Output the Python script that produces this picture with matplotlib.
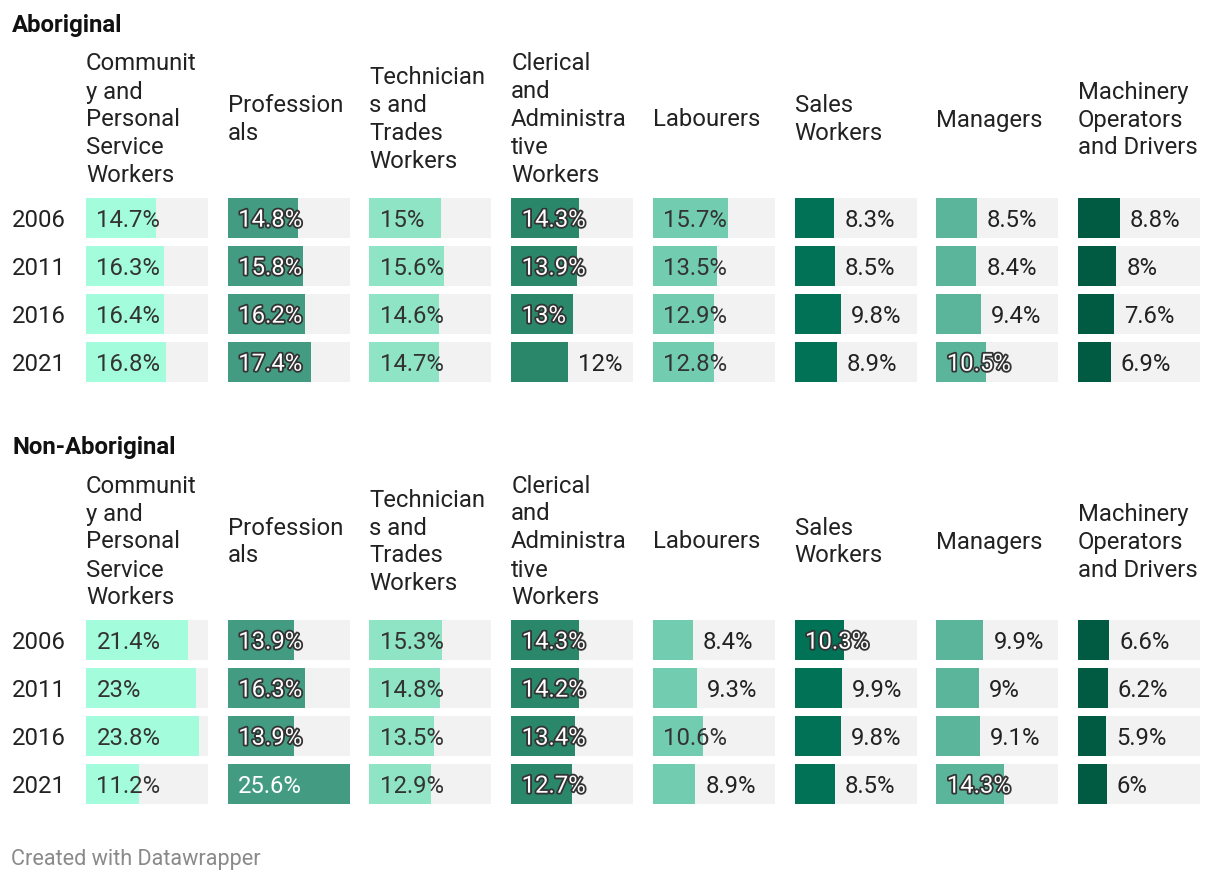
import matplotlib
matplotlib.use("Agg")
import matplotlib.pyplot as plt
import matplotlib.patheffects as pe
import matplotlib.transforms as mtransforms
from matplotlib.colors import to_rgb

plt.rcParams['font.family'] = ['Roboto', 'DejaVu Sans']

# ---------------- data ----------------
years = ["2006", "2011", "2016", "2021"]
categories = [
    "Communit\ny and\nPersonal\nService\nWorkers",
    "Profession\nals",
    "Technician\ns and\nTrades\nWorkers",
    "Clerical\nand\nAdministra\ntive\nWorkers",
    "Labourers",
    "Sales\nWorkers",
    "Managers",
    "Machinery\nOperators\nand Drivers",
]
groups = ["Aboriginal", "Non-Aboriginal"]

aboriginal_community = [14.7, 16.3, 16.4, 16.8]
aboriginal_professionals = [14.8, 15.8, 16.2, 17.4]
aboriginal_technicians = [15, 15.6, 14.6, 14.7]
aboriginal_clerical = [14.3, 13.9, 13, 12]
aboriginal_labourers = [15.7, 13.5, 12.9, 12.8]
aboriginal_sales = [8.3, 8.5, 9.8, 8.9]
aboriginal_managers = [8.5, 8.4, 9.4, 10.5]
aboriginal_machinery = [8.8, 8, 7.6, 6.9]

nonaboriginal_community = [21.4, 23, 23.8, 11.2]
nonaboriginal_professionals = [13.9, 16.3, 13.9, 25.6]
nonaboriginal_technicians = [15.3, 14.8, 13.5, 12.9]
nonaboriginal_clerical = [14.3, 14.2, 13.4, 12.7]
nonaboriginal_labourers = [8.4, 9.3, 10.6, 8.9]
nonaboriginal_sales = [10.3, 9.9, 9.8, 8.5]
nonaboriginal_managers = [9.9, 9, 9.1, 14.3]
nonaboriginal_machinery = [6.6, 6.2, 5.9, 6]

colors = ["#a3fcdc", "#439c81", "#8ee4c5", "#2a876a",
          "#72cdb0", "#017256", "#5bb59b", "#015b43"]

values = {
    "Aboriginal": [aboriginal_community, aboriginal_professionals, aboriginal_technicians,
                   aboriginal_clerical, aboriginal_labourers, aboriginal_sales,
                   aboriginal_managers, aboriginal_machinery],
    "Non-Aboriginal": [nonaboriginal_community, nonaboriginal_professionals,
                       nonaboriginal_technicians, nonaboriginal_clerical,
                       nonaboriginal_labourers, nonaboriginal_sales,
                       nonaboriginal_managers, nonaboriginal_machinery],
}

# ---------------- layout ----------------
W, H = 1220, 880
fig = plt.figure(figsize=(W / 100, H / 100), dpi=100)
fig.patch.set_facecolor("white")
renderer = fig.canvas.get_renderer()

FS = 17.2
TXT = "#222222"
BG = "#f2f2f2"
vmax = max(max(max(s) for s in values[g]) for g in groups)

panel_left0 = 86
panel_w = 122
panel_step = (1200 - 86 - panel_w) / 7
group_offset = [0, 422]
bars_top = 198
bars_bottom = 382
row_step = 48
bar_h = 40
BASE = 8.7  # baseline offset below row centre (px)


def fx(px):
    return px / W


def fy(py):
    return 1 - py / H


def lum(c):
    r, g, b = to_rgb(c)
    f = lambda u: u / 12.92 if u <= 0.03928 else ((u + 0.055) / 1.055) ** 2.4
    return 0.2126 * f(r) + 0.7152 * f(g) + 0.0722 * f(b)


def text_width(s):
    t = fig.text(0, 0, s, fontsize=FS)
    w = t.get_window_extent(renderer).width
    t.remove()
    return w


for gi, g in enumerate(groups):
    off = group_offset[gi]
    # group title
    fig.text(fx(12), fy(32 + off), g, fontsize=17.3, fontweight="bold",
             color="#111111", va="baseline", ha="left")
    for ci, cat in enumerate(categories):
        left = panel_left0 + ci * panel_step
        # header, line by line, vertically centred on y=118
        lines = cat.split("\n")
        n = len(lines)
        for li, line in enumerate(lines):
            base = 118 + off + (li - (n - 1) / 2) * 28 + 8.5
            fig.text(fx(left), fy(base), line, fontsize=FS, color=TXT,
                     va="baseline", ha="left")

        ax = fig.add_axes([fx(left), fy(bars_bottom + off), fx(panel_w),
                           (bars_bottom - bars_top) / H])
        vals = values[g][ci]
        ypos = list(range(len(years)))
        hfrac = bar_h / row_step
        ax.barh(ypos, [vmax] * len(vals), height=hfrac, color=BG, linewidth=0)
        ax.barh(ypos, vals, height=hfrac, color=colors[ci], linewidth=0)
        ax.set_xlim(0, vmax)
        ax.set_ylim(len(years) - 1 + hfrac / 2, -hfrac / 2)
        ax.axis("off")

        px_per_unit = panel_w / vmax
        dark = lum(colors[ci]) < 0.45
        for yi, v in zip(ypos, vals):
            s = f"{v:g}%"
            tw = text_width(s)
            bar_px = v * px_per_unit
            outside = bar_px + 10 + tw + 10 <= panel_w
            if outside:
                ax.annotate(s, xy=(v, yi), xytext=(10, -BASE),
                            textcoords="offset pixels", va="baseline",
                            ha="left", fontsize=FS, color=TXT)
            else:
                if dark:
                    t = ax.annotate(s, xy=(0, yi), xytext=(10.5, -BASE),
                                    textcoords="offset pixels", va="baseline",
                                    ha="left", fontsize=FS, color="white")
                    if 10.5 + tw + 14 > bar_px:
                        t.set_path_effects([pe.withStroke(linewidth=2.6,
                                                          foreground="#333333")])
                else:
                    ax.annotate(s, xy=(0, yi), xytext=(10.5, -BASE),
                                textcoords="offset pixels", va="baseline",
                                ha="left", fontsize=FS, color="#333333")

        if ci == 0:
            blend = mtransforms.blended_transform_factory(fig.transFigure, ax.transData)
            for yi, yr in zip(ypos, years):
                ax.annotate(yr, xy=(fx(12), yi), xycoords=blend,
                            xytext=(0, -BASE), textcoords="offset pixels",
                            va="baseline", ha="left", fontsize=FS, color=TXT,
                            annotation_clip=False)

fig.text(fx(11), fy(865), "Created with Datawrapper", fontsize=15.6,
         color="#8a8a8a", va="baseline", ha="left")

fig.savefig("out.png", dpi=100, facecolor="white")
